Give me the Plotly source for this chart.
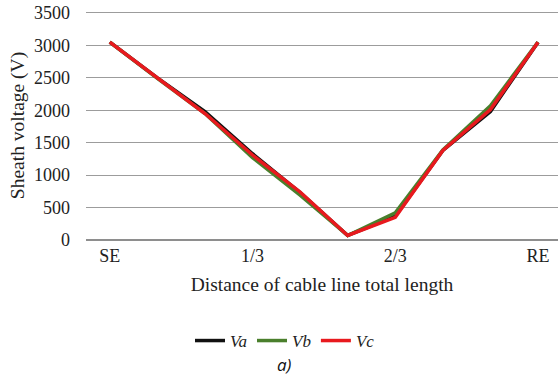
import plotly.graph_objects as go

# Data (10 equally spaced measurement points along the cable)
x_index = [0, 1, 2, 3, 4, 5, 6, 7, 8, 9]
tick_positions = [0, 3, 6, 9]
tick_labels = ["SE", "1/3", "2/3", "RE"]
y_ticks = [0, 500, 1000, 1500, 2000, 2500, 3000, 3500]

va = [3050, 2500, 1980, 1330, 730, 70, 370, 1380, 1980, 3050]
vb = [3050, 2490, 1950, 1270, 690, 70, 420, 1390, 2070, 3050]
vc = [3050, 2500, 1950, 1310, 740, 70, 350, 1380, 2010, 3050]

series = [("Va", va, "#111111"), ("Vb", vb, "#4a7f2c"), ("Vc", vc, "#e8191e")]

SERIF = "Liberation Serif, Times New Roman, serif"

W, H = 558, 375
L, T = 86, 11
PLOT_W = W - L          # 472
PLOT_H = 229

fig = go.Figure()
for name, vals, col in series:
    fig.add_trace(go.Scatter(
        x=x_index, y=vals, mode="lines", name=name,
        line=dict(color=col, width=3.5),
    ))

fig.update_layout(
    width=W, height=H,
    margin=dict(l=L, r=0, t=T, b=H - T - PLOT_H),
    paper_bgcolor="white", plot_bgcolor="white",
    font=dict(family=SERIF, size=18, color="#222"),
    showlegend=True,
    legend=dict(
        orientation="h", xref="container", yref="container",
        x=285 / W, xanchor="center", y=1 - 341 / H, yanchor="middle",
        font=dict(family=SERIF, size=17, color="#222", style="italic"),
        itemwidth=30, tracegroupgap=0,
    ),
    xaxis=dict(
        range=[-0.5, 9.42],
        tickvals=tick_positions, ticktext=tick_labels,
        showgrid=False, zeroline=False,
        showline=False, ticks="",
        ticklabelstandoff=3,
        tickfont=dict(family=SERIF, size=18, color="#222"),
        title=dict(text="Distance of cable line total length",
                   font=dict(family=SERIF, size=19.5, color="#222"),
                   standoff=12),
    ),
    yaxis=dict(
        range=[0, 3530], tickvals=y_ticks,
        showgrid=True, gridcolor="#9c9c9c", gridwidth=1.2,
        zeroline=True, zerolinecolor="#8e8e8e", zerolinewidth=2,
        showline=False, ticks="",
        ticklabelstandoff=15, ticklabeloverflow="allow",
        tickfont=dict(family=SERIF, size=18, color="#222"),
        title=dict(text="Sheath voltage (V)",
                   font=dict(family=SERIF, size=19.5, color="#222"),
                   standoff=4),
        automargin=False,
    ),
)

fig.add_annotation(
    text="<i>a)</i>", xref="paper", yref="paper",
    x=(284 - 86) / PLOT_W, y=-(364 - 240) / PLOT_H,
    xanchor="center", yanchor="middle", showarrow=False,
    font=dict(family="Open Sans, sans-serif", size=17, color="#111"),
)

fig.write_html(
    "out.html",
    config={"displayModeBar": False},
    post_script="document.body.style.margin='0';document.body.style.overflow='hidden';",
)
